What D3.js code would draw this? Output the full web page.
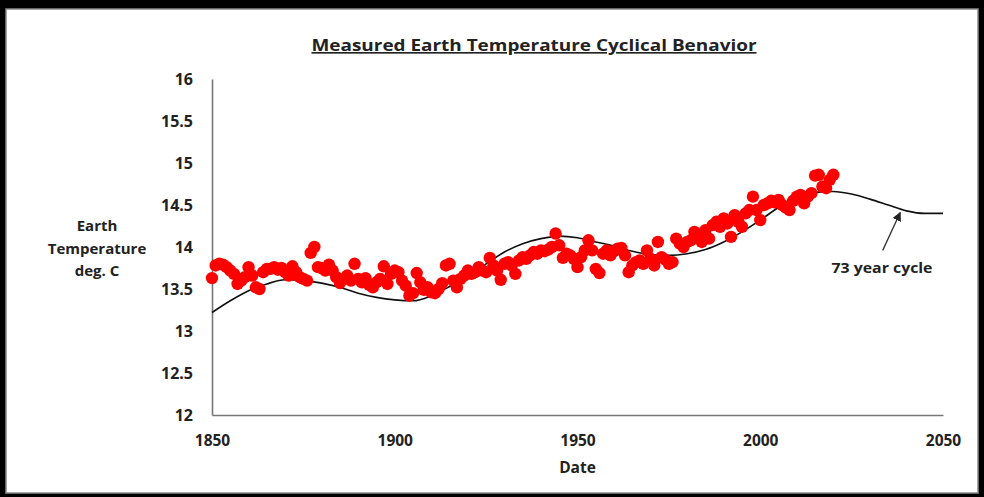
<!DOCTYPE html>
<html><head><meta charset="utf-8">
<script src="https://cdn.jsdelivr.net/npm/d3@7"></script>
<style>
html,body{margin:0;padding:0;background:#fff;}
svg{display:block;}
text{font-family:"Open Sans","DejaVu Sans",sans-serif;font-weight:bold;fill:#222;}
</style></head>
<body>
<svg id="chart" width="984" height="497"></svg>
<script>
const title = "Measured Earth Temperature Cyclical Benavior";
const xTitle = "Date";
const yTitleLines = ["Earth", "Temperature", "deg. C"];
const annotation = "73 year cycle";
const xTicks = [1850, 1900, 1950, 2000, 2050];
const yTicks = [12, 12.5, 13, 13.5, 14, 14.5, 15, 15.5, 16];

const measuredYears = d3.range(1850, 2021);
const measuredTemps = [
 13.63,13.78,13.80,13.79,13.76,13.72,13.68,13.56,13.60,13.64,
 13.76,13.66,13.52,13.50,13.70,13.74,13.74,13.76,13.73,13.75,
 13.70,13.66,13.77,13.70,13.64,13.62,13.60,13.93,14.00,13.76,
 13.75,13.72,13.79,13.72,13.64,13.57,13.62,13.66,13.60,13.80,
 13.62,13.58,13.63,13.55,13.52,13.58,13.62,13.77,13.56,13.68,
 13.72,13.70,13.60,13.54,13.42,13.45,13.69,13.58,13.49,13.52,
 13.46,13.45,13.50,13.57,13.78,13.80,13.60,13.52,13.62,13.66,
 13.72,13.68,13.70,13.76,13.72,13.70,13.87,13.78,13.72,13.61,
 13.80,13.82,13.78,13.68,13.84,13.88,13.86,13.90,13.94,13.92,
 13.96,13.95,13.97,14.00,14.16,14.02,13.87,13.92,13.90,13.86,
 13.76,13.88,13.96,14.08,13.96,13.74,13.69,13.92,13.96,13.90,
 13.95,13.98,13.99,13.90,13.70,13.78,13.82,13.84,13.80,13.96,
 13.86,13.78,14.06,13.88,13.85,13.80,13.82,14.10,14.04,14.00,
 14.06,14.08,14.18,14.12,14.06,14.20,14.10,14.26,14.30,14.24,
 14.34,14.28,14.12,14.38,14.30,14.24,14.40,14.44,14.60,14.44,
 14.32,14.50,14.52,14.55,14.53,14.56,14.50,14.47,14.44,14.55,
 14.60,14.62,14.52,14.60,14.64,14.85,14.86,14.72,14.70,14.80,
 14.86
];

const cycleYears = [1850,1855,1860,1865,1870,1875,1880,1885,1890,1895,1900,1905,1910,1915,1920,1925,1930,1935,1940,1945,1950,1955,1960,1965,1970,1975,1980,1985,1990,1995,2000,2005,2010,2015,2020,2025,2030,2035,2040,2045,2050];
const cycleTemps = [13.22,13.36,13.48,13.56,13.61,13.60,13.57,13.52,13.45,13.40,13.37,13.36,13.42,13.53,13.66,13.80,13.94,14.04,14.10,14.13,14.11,14.06,14.01,13.95,13.91,13.90,13.92,13.97,14.06,14.18,14.32,14.47,14.58,14.65,14.66,14.63,14.57,14.50,14.43,14.40,14.40];

const svg = d3.select("#chart");
const W = 984, H = 497;

// frame
svg.append("rect").attr("x",0).attr("y",0).attr("width",W).attr("height",H).attr("fill","#000");
svg.append("rect").attr("x",6).attr("y",9).attr("width",W-12).attr("height",H-13).attr("fill","#fff")
  .attr("stroke","#888").attr("stroke-width",1.5);

const x = d3.scaleLinear().domain([1850, 2050]).range([212, 943]);
const y = d3.scaleLinear().domain([12, 16]).range([415, 79]);

// title
svg.append("text").attr("x",534).attr("y",51).attr("text-anchor","middle")
  .attr("font-size",16.5).attr("textLength",445).attr("lengthAdjust","spacingAndGlyphs")
  .attr("text-decoration","underline").text(title);

// axes
const yAxis = d3.axisLeft(y).tickValues(yTicks).tickSize(0).tickPadding(19)
  .tickFormat(d => String(d));
const gy = svg.append("g").attr("transform","translate(212,0)").call(yAxis);
gy.select(".domain").attr("stroke","#777").attr("stroke-width",1.6);
gy.selectAll("text").attr("font-size",16).attr("font-family",null).attr("fill","#222");

const xAxis = d3.axisBottom(x).tickValues(xTicks).tickSize(0).tickPadding(20).tickFormat(d3.format("d"));
const gx = svg.append("g").attr("transform","translate(0,415)").call(xAxis);
gx.select(".domain").attr("stroke","#777").attr("stroke-width",1.6);
gx.selectAll("text").attr("font-size",15.5).attr("font-family",null).attr("fill","#222");

// axis titles
svg.append("text").attr("x",x(1950)).attr("y",473).attr("text-anchor","middle").attr("font-size",15.5).text(xTitle);
const yt = svg.append("text").attr("text-anchor","middle").attr("font-size",15);
yTitleLines.forEach((t,i) => yt.append("tspan").attr("x",97).attr("y",231 + i*22.5).text(t));

// cycle curve
const line = d3.line().x(d => x(d[0])).y(d => y(d[1])).curve(d3.curveMonotoneX);
svg.append("path").datum(cycleYears.map((yr,i)=>[yr,cycleTemps[i]]))
  .attr("d",line).attr("fill","none").attr("stroke","#111").attr("stroke-width",1.6);

// measured points
svg.append("g").selectAll("circle").data(measuredYears.map((yr,i)=>[yr,measuredTemps[i]]))
  .join("circle").attr("cx",d=>x(d[0])).attr("cy",d=>y(d[1])).attr("r",6.2).attr("fill","#ff0000");

// annotation
svg.append("defs").append("marker").attr("id","arr").attr("viewBox","0 0 10 10").attr("refX",9).attr("refY",5)
  .attr("markerWidth",7).attr("markerHeight",7).attr("orient","auto")
  .append("path").attr("d","M0,0 L10,5 L0,10 z").attr("fill","#222");
svg.append("line").attr("x1",x(2033.5)).attr("y1",y(13.96)).attr("x2",x(2038.3)).attr("y2",y(14.41))
  .attr("stroke","#333").attr("stroke-width",1.3).attr("marker-end","url(#arr)");
svg.append("text").attr("x",882).attr("y",273).attr("text-anchor","middle").attr("font-size",13.5)
  .attr("textLength",101).attr("lengthAdjust","spacingAndGlyphs").text(annotation);
</script>
</body></html>
